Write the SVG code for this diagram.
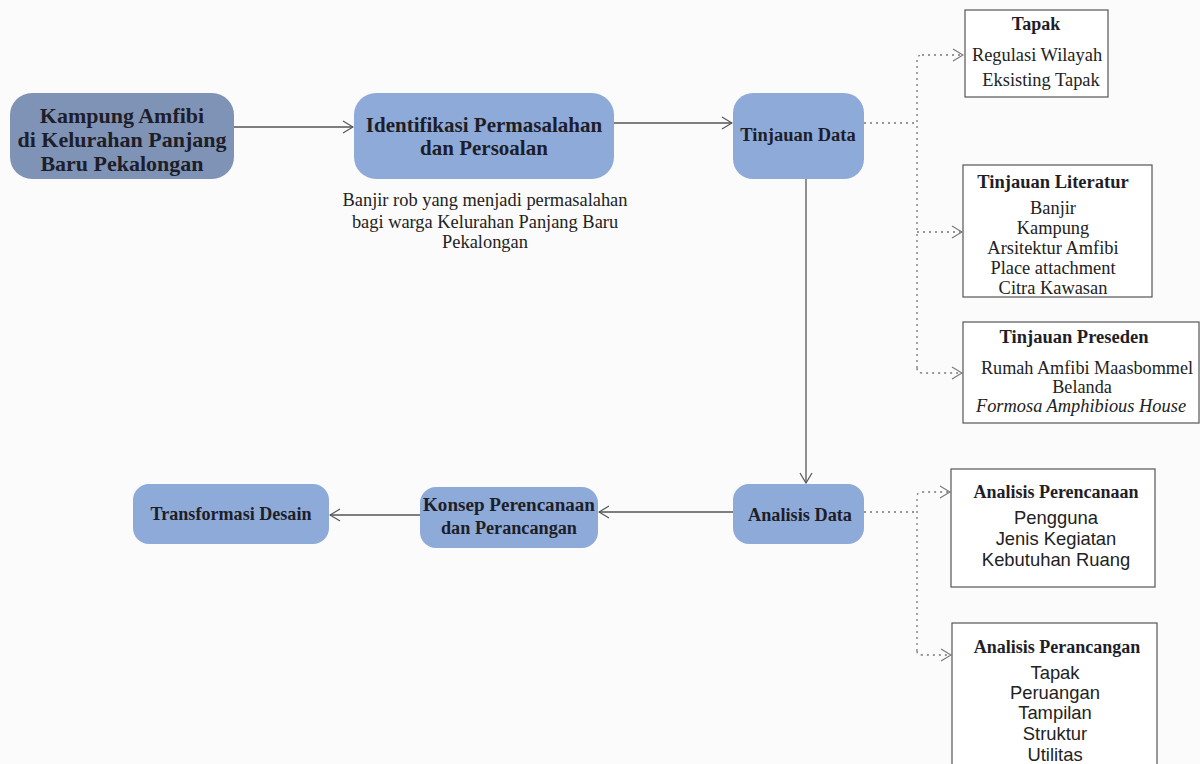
<svg xmlns="http://www.w3.org/2000/svg" width="1200" height="764" viewBox="0 0 1200 764">
<defs>
<marker id="ah" markerWidth="12" markerHeight="14" refX="11" refY="7" orient="auto" markerUnits="userSpaceOnUse">
<path d="M1,1 L11,7 L1,13" fill="none" stroke="#555" stroke-width="1.2"/>
</marker>
<marker id="ahd" markerWidth="12" markerHeight="14" refX="11" refY="7" orient="auto" markerUnits="userSpaceOnUse">
<path d="M1,1 L11,7 L1,13" fill="none" stroke="#777" stroke-width="1.1"/>
</marker>
</defs>
<style>
.n{fill:#8eaad9}
.n1{fill:#7f93b7}
.t{font-family:"Liberation Serif",serif;font-weight:bold;fill:#1e1e28;text-anchor:middle}
.r{font-family:"Liberation Serif",serif;fill:#222;text-anchor:middle}
.s{font-family:"Liberation Sans",sans-serif;fill:#222;text-anchor:middle}
.box{fill:#fff;stroke:#555;stroke-width:1.2}
.c{fill:none;stroke:#555;stroke-width:1.3}
.d{fill:none;stroke:#777;stroke-width:1.3;stroke-dasharray:2 4}
</style>
<rect width="1200" height="764" fill="#fbfbfb"/>
<g id="connectors">
<line class="c" x1="234" y1="127" x2="353" y2="127" marker-end="url(#ah)"/>
<line class="c" x1="614" y1="123" x2="732" y2="123" marker-end="url(#ah)"/>
<line class="c" x1="806" y1="179" x2="806" y2="483" marker-end="url(#ah)"/>
<line class="c" x1="733" y1="512" x2="599" y2="512" marker-end="url(#ah)"/>
<line class="c" x1="420" y1="515" x2="330" y2="515" marker-end="url(#ah)"/>
<path class="d" d="M864,123 L917,123"/>
<path class="d" d="M917,368 L917,60 Q917,55 922,55"/>
<path class="d" d="M922,55 L963,55" marker-end="url(#ahd)"/>
<path class="d" d="M917,232 L962,232" marker-end="url(#ahd)"/>
<path class="d" d="M917,368 Q917,373 922,373 L962,373" marker-end="url(#ahd)"/>
<path class="d" d="M864,512 L917,512"/>
<path class="d" d="M917,651 L917,497 Q917,492 922,492 L950,492" marker-end="url(#ahd)"/>
<path class="d" d="M917,651 Q917,655 922,655 L951,655" marker-end="url(#ahd)"/>
</g>
<g id="kampung">
<rect class="n1" x="10" y="93" width="224" height="86" rx="22"/>
<text class="t" font-size="22" x="122" y="123">Kampung Amfibi</text>
<text class="t" font-size="22" x="122" y="147">di Kelurahan Panjang</text>
<text class="t" font-size="22" x="122" y="171">Baru Pekalongan</text>
</g>
<g id="identifikasi">
<rect class="n" x="354" y="93" width="260" height="86" rx="22"/>
<text class="t" font-size="21" x="484" y="132">Identifikasi Permasalahan</text>
<text class="t" font-size="21" x="484" y="155">dan Persoalan</text>
</g>
<g id="caption">
<text class="r" font-size="18.4" x="485" y="206">Banjir rob yang menjadi permasalahan</text>
<text class="r" font-size="18.4" x="485" y="228">bagi warga Kelurahan Panjang Baru</text>
<text class="r" font-size="18.4" x="485" y="248">Pekalongan</text>
</g>
<g id="tinjauan-data">
<rect class="n" x="733" y="93" width="131" height="86" rx="20"/>
<text class="t" font-size="18.5" x="798" y="141">Tinjauan Data</text>
</g>
<g id="tapak">
<rect class="box" x="965" y="10" width="143" height="87"/>
<text class="t" font-size="18" x="1036" y="30">Tapak</text>
<text class="r" font-size="18.4" x="1037" y="61">Regulasi Wilayah</text>
<text class="r" font-size="18.4" x="1041" y="86">Eksisting Tapak</text>
</g>
<g id="literatur">
<rect class="box" x="963" y="165" width="189" height="132"/>
<text class="t" font-size="18.5" x="1053" y="188">Tinjauan Literatur</text>
<text class="r" font-size="18.4" x="1053" y="214">Banjir</text>
<text class="r" font-size="18.4" x="1053" y="234">Kampung</text>
<text class="r" font-size="18.4" x="1053" y="254">Arsitektur Amfibi</text>
<text class="r" font-size="18.4" x="1053" y="274">Place attachment</text>
<text class="r" font-size="18.4" x="1053" y="294">Citra Kawasan</text>
</g>
<g id="preseden">
<rect class="box" x="963" y="322" width="236" height="101"/>
<text class="t" font-size="18.5" x="1074" y="343">Tinjauan Preseden</text>
<text class="r" font-size="18.2" x="1087" y="374">Rumah Amfibi Maasbommel</text>
<text class="r" font-size="18.2" x="1082" y="393">Belanda</text>
<text class="r" font-size="18.4" x="1081" y="412" font-style="italic">Formosa Amphibious House</text>
</g>
<g id="analisis-data">
<rect class="n" x="733" y="484" width="131" height="60" rx="16"/>
<text class="t" font-size="19" x="800" y="521" textLength="104" lengthAdjust="spacingAndGlyphs">Analisis Data</text>
</g>
<g id="konsep">
<rect class="n" x="420" y="487" width="178" height="61" rx="16"/>
<text class="t" font-size="18" x="509" y="511" textLength="172" lengthAdjust="spacingAndGlyphs">Konsep Perencanaan</text>
<text class="t" font-size="18" x="509" y="534" textLength="136" lengthAdjust="spacingAndGlyphs">dan Perancangan</text>
</g>
<g id="transformasi">
<rect class="n" x="133" y="484" width="196" height="60" rx="16"/>
<text class="t" font-size="19" x="231" y="520" textLength="161" lengthAdjust="spacingAndGlyphs">Transformasi Desain</text>
</g>
<g id="perencanaan">
<rect class="box" x="951" y="469" width="204" height="118"/>
<text class="t" font-size="18" x="1056" y="498">Analisis Perencanaan</text>
<text class="s" font-size="18.4" x="1056" y="524">Pengguna</text>
<text class="s" font-size="18.4" x="1056" y="545">Jenis Kegiatan</text>
<text class="s" font-size="18.4" x="1056" y="566">Kebutuhan Ruang</text>
</g>
<g id="perancangan">
<rect class="box" x="952" y="623" width="205" height="160"/>
<text class="t" font-size="18" x="1057" y="653">Analisis Perancangan</text>
<text class="s" font-size="18.4" x="1055" y="679">Tapak</text>
<text class="s" font-size="18.4" x="1055" y="699">Peruangan</text>
<text class="s" font-size="18.4" x="1055" y="719">Tampilan</text>
<text class="s" font-size="18.4" x="1055" y="740">Struktur</text>
<text class="s" font-size="18.4" x="1055" y="761">Utilitas</text>
</g>
</svg>
